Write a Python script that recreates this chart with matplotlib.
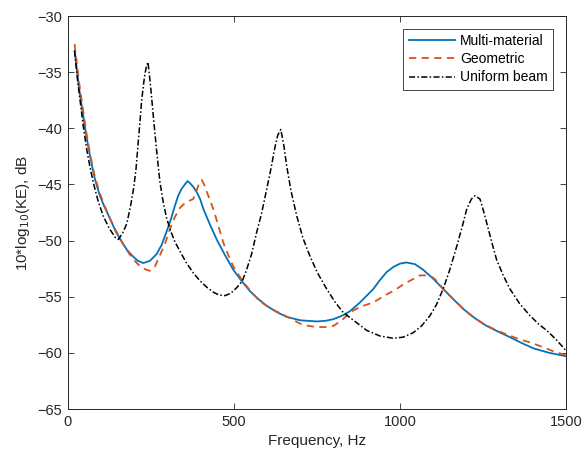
import matplotlib
matplotlib.use("Agg")
import matplotlib.pyplot as plt

# Multi-material response
f_multi = [20, 33, 46, 56, 66, 80, 96, 110, 126, 144, 162, 177, 192, 210, 227, 247, 267,
           282, 297, 310, 322, 332, 342, 352, 360, 368, 377, 388, 398, 408, 428, 448, 473,
           498, 523, 548, 573, 598, 628, 659, 700, 749, 775, 799, 825, 849, 880, 920, 940,
           960, 980, 1000, 1020, 1045, 1070, 1100, 1130, 1160, 1191, 1225, 1261, 1295,
           1331, 1365, 1402, 1450, 1500]
ke_multi = [-33.1, -36.3, -38.9, -40.8, -42.4, -44.4, -46.0, -47.0, -48.0, -49.2, -50.1,
            -50.8, -51.3, -51.8, -52.0, -51.8, -51.2, -50.4, -49.2, -48.1, -46.9, -46.0,
            -45.4, -45.0, -44.7, -44.9, -45.2, -45.7, -46.3, -47.2, -48.6, -49.9, -51.3,
            -52.6, -53.6, -54.5, -55.2, -55.8, -56.35, -56.8, -57.1, -57.2, -57.15, -57.0,
            -56.7, -56.3, -55.5, -54.3, -53.5, -52.8, -52.35, -52.05, -51.95, -52.1,
            -52.6, -53.4, -54.3, -55.2, -56.1, -56.9, -57.6, -58.1, -58.6, -59.1, -59.6,
            -60.0, -60.3]

# Geometric response
f_geom = [20, 33, 46, 56, 66, 80, 96, 110, 126, 144, 162, 185, 207, 227, 247, 262, 277,
          292, 307, 322, 337, 347, 362, 377, 388, 396, 403, 410, 420, 438, 453, 468, 483,
          498, 513, 528, 553, 578, 613, 648, 675, 699, 725, 749, 775, 799, 825, 849, 880,
          920, 960, 985, 1010, 1035, 1060, 1080, 1100, 1115, 1130, 1170, 1211, 1250,
          1291, 1325, 1361, 1395, 1432, 1465, 1500]
ke_geom = [-32.5, -35.8, -38.5, -40.5, -42.2, -44.2, -45.8, -46.9, -48.0, -49.1, -50.1,
           -51.2, -52.0, -52.5, -52.7, -52.3, -51.3, -50.3, -49.0, -47.9, -47.1, -46.8,
           -46.5, -46.3, -45.5, -44.8, -44.6, -45.0, -45.8, -47.2, -48.7, -50.2, -51.3,
           -52.3, -53.0, -53.7, -54.6, -55.4, -56.1, -56.6, -57.0, -57.4, -57.6, -57.7,
           -57.7, -57.6, -57.1, -56.4, -55.9, -55.5, -54.8, -54.4, -53.9, -53.5, -53.1,
           -53.1, -53.3, -53.7, -54.3, -55.5, -56.6, -57.4, -58.0, -58.4, -58.8, -59.1,
           -59.5, -59.9, -60.2]

# Uniform beam response
f_unif = [20, 28, 36, 46, 56, 66, 76, 90, 106, 124, 142, 152, 165, 177, 188, 198, 205,
          210, 216, 222, 230, 236, 241, 249, 257, 267, 277, 287, 297, 310, 322, 340, 357,
          378, 398, 420, 438, 455, 473, 490, 508, 525, 538, 553, 568, 583, 598, 610, 624,
          632, 641, 650, 659, 672, 689, 708, 729, 752, 779, 805, 829, 860, 900, 940, 980,
          1010, 1040, 1065, 1090, 1110, 1130, 1150, 1171, 1188, 1201, 1215, 1226, 1241,
          1250, 1261, 1276, 1291, 1311, 1331, 1360, 1392, 1420, 1442, 1470, 1500]
ke_unif = [-33.1, -35.5, -37.4, -39.8, -41.8, -43.4, -44.8, -46.4, -47.8, -48.9, -49.7,
           -49.9, -49.3, -48.5, -47.0, -45.3, -43.6, -41.8, -39.7, -37.5, -35.5, -34.5,
           -34.1, -36.3, -38.9, -42.0, -44.8, -46.6, -48.0, -49.2, -50.1, -51.1, -52.0,
           -52.9, -53.6, -54.2, -54.6, -54.85, -54.9, -54.7, -54.2, -53.6, -52.6, -51.2,
           -49.3, -47.6, -45.5, -43.8, -41.6, -40.6, -40.1, -41.5, -43.4, -45.6, -47.8,
           -49.8, -51.4, -52.9, -54.3, -55.5, -56.4, -57.1, -58.0, -58.5, -58.7, -58.6,
           -58.2, -57.6, -56.7, -55.7, -54.3, -52.6, -50.5, -48.7, -47.2, -46.3, -46.0,
           -46.3, -47.2, -48.4, -50.1, -51.7, -53.1, -54.3, -55.6, -56.7, -57.5, -58.0,
           -58.8, -59.8]

plt.rcParams['font.family'] = ['Liberation Sans', 'DejaVu Sans']
plt.rcParams['font.size'] = 10
gray = '#262626'

fig = plt.figure(figsize=(5.85, 4.59), dpi=100)
ax = fig.add_axes([0.1162, 0.1089, 0.8513, 0.8562])

ax.plot(f_multi, ke_multi, color='#0072BD', lw=1.3, label='Multi-material')
ax.plot(f_geom, ke_geom, color='#D95319', lw=1.3, ls=(0, (4, 3)), label='Geometric')
ax.plot(f_unif, ke_unif, color='black', lw=1.1, ls=(0, (4, 1.5, 1, 1.5)), label='Uniform beam')

ax.set_xlim(0, 1500)
ax.set_ylim(-65, -30)
ax.set_xticks([0, 500, 1000, 1500])
ax.set_yticks(range(-65, -29, 5))
ax.tick_params(direction='in', top=True, right=True, length=4, width=0.6,
               colors=gray, labelsize=10.5, pad=4)
for s in ax.spines.values():
    s.set_color(gray)
    s.set_linewidth(0.7)

ax.set_xlabel('Frequency, Hz', color=gray, fontsize=11)
ax.set_ylabel('10*log$_{10}$(KE), dB', color=gray, fontsize=11)

leg = ax.legend(loc='upper right', fontsize=10, handlelength=3.3, fancybox=False,
                borderaxespad=0.9, labelspacing=0.3, handletextpad=0.4,
                borderpad=0.4, framealpha=1)
leg.get_frame().set_edgecolor(gray)
leg.get_frame().set_linewidth(0.6)

fig.savefig('out.png', dpi=100)
